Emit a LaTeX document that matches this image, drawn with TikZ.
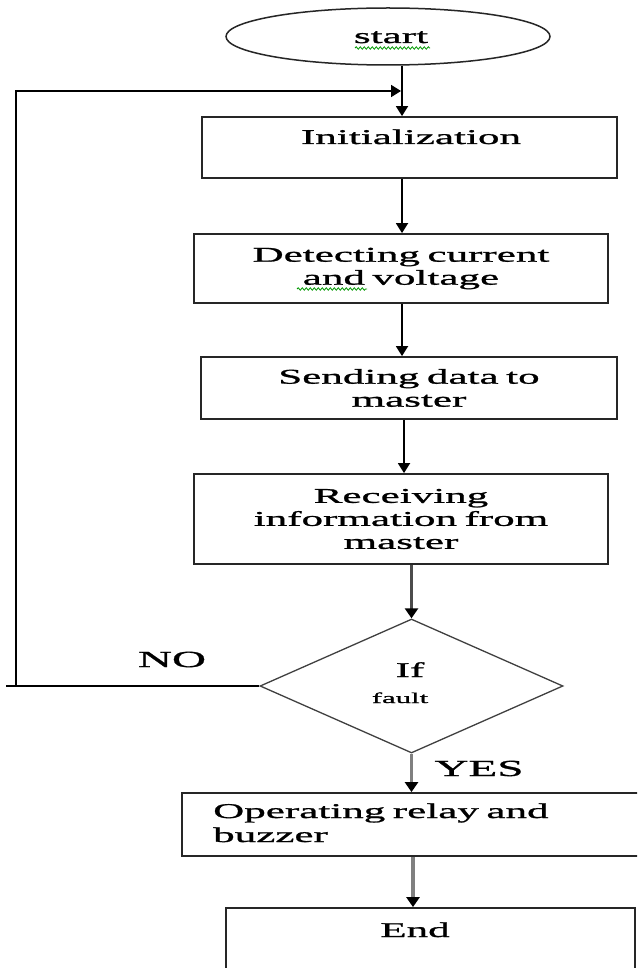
\documentclass[tikz,border=0pt]{standalone}
\usepackage{fontspec}
\setmainfont{Liberation Serif}[FakeStretch=2.05,FakeBold=1.2,WordSpace=0.7]
\usetikzlibrary{arrows.meta,shapes.geometric,decorations.pathmorphing}
\begin{document}
\begin{tikzpicture}[x=1pt,y=-1pt,
  txt/.style={inner sep=0pt, font=\fontsize{21}{23}\selectfont, text=black},
  box/.style={draw=black!85, line width=1.8pt, inner sep=0pt, align=center, font=\fontsize{21}{23}\selectfont},
  arr/.style={draw=black, line width=1.8pt, -{Triangle[length=10pt,width=12pt]}},
  garr/.style={draw=black!50, line width=3.5pt, -{Triangle[length=10pt,width=13pt,color=black]}},
  darr/.style={draw=black!70, line width=2.4pt, -{Triangle[length=10pt,width=13pt,color=black]}},
  squig/.style={draw=green!60!black, line width=0.8pt, decorate, decoration={snake,amplitude=1.2pt,segment length=4pt}}
]
\useasboundingbox (0,0) rectangle (637,968);
\fill[white] (0,0) rectangle (637,968);
\clip (0,0) rectangle (637,968);

% start
\node[ellipse, draw=black!85, line width=1.5pt, minimum width=324pt, minimum height=57pt, inner sep=0pt] (start) at (388,36.5) {};
\node[txt, anchor=base] (tstart) at (391,43) {start};
\draw[squig] (355,48) -- (430,48);

% boxes
\node[box, minimum width=415pt, minimum height=61pt] (init) at (409.5,147.5) {};
\node[txt, anchor=base] (tinit) at (411,144) {Initialization};

\node[box, minimum width=414pt, minimum height=69pt] (detect) at (401,268.5) {Detecting current\\and voltage};
\draw[squig] (297,289) -- (367,289);

\node[box, minimum width=416pt, minimum height=62pt] (send) at (409,388) {Sending data to\\master};

\node[box, minimum width=414pt, minimum height=90pt] (recv) at (401,519) {Receiving\\information from\\master};

\node[diamond, draw=black!75, line width=1.3pt, minimum width=303pt, minimum height=134pt, inner sep=0pt] (dia) at (411.5,686) {};
\node[txt, anchor=base] (tif) at (410,677) {If};
\node[txt, anchor=base, font=\fontsize{15}{17}\selectfont] (tfault) at (400,703) {fault};
\node[txt, anchor=base, font=\fontsize{23}{25}\selectfont] (tno) at (172,667) {NO};
\node[txt, anchor=base, font=\fontsize{23}{25}\selectfont] (tyes) at (479,776) {YES};

\node[box, minimum width=470pt, minimum height=63pt] (oper) at (417,824.5) {};
\node[txt, anchor=base west] (toper1) at (213,818) {Operating relay and};
\node[txt, anchor=base west] (toper2) at (213,842) {buzzer};

\node[box, minimum width=409pt, minimum height=100pt] (end) at (430.5,958) {};
\node[txt, anchor=base] (tend) at (415,937) {End};

% loop coordinates
\coordinate (loopE) at (6,686);
\coordinate (loopL) at (16,686);
\coordinate (loopT) at (16,91);
\coordinate (join) at (401,91);

% connectors
\draw[arr] ([xshift=14pt]start.south) -- ([xshift=14pt]start.south |- init.north);
\draw[line width=1.8pt] (dia.west) -- (loopE);
\draw[arr] (loopL) -- (loopT) -- (join);
\draw[arr] ([xshift=-7.5pt]init.south) -- ([xshift=-7.5pt]init.south |- detect.north);
\draw[arr] ([xshift=1pt]detect.south) -- ([xshift=1pt]detect.south |- send.north);
\draw[arr] ([xshift=-5pt]send.south) -- ([xshift=-5pt]send.south |- recv.north);
\draw[darr] ([xshift=10.5pt]recv.south) -- ([xshift=10.5pt]recv.south |- dia.north);
\draw[garr] (dia.south) -- (dia.south |- oper.north);
\draw[garr] ([xshift=-4pt]oper.south) -- ([xshift=-4pt]oper.south |- end.north);
\end{tikzpicture}
\end{document}
